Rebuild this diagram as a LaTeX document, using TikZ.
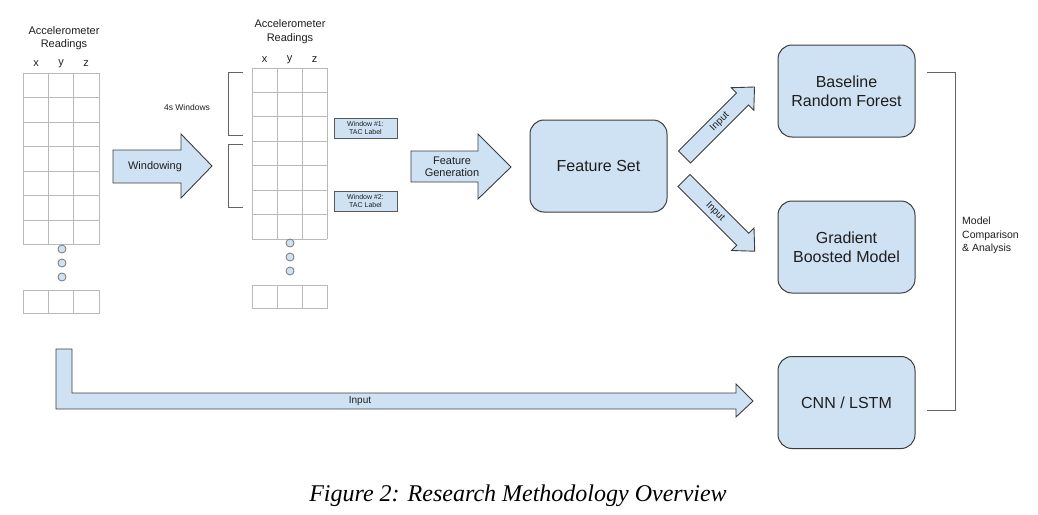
\documentclass[tikz,border=0pt]{standalone}
\usepackage{fontspec}
\setmainfont{Liberation Sans}
\newfontfamily\capfont{Liberation Serif}
\definecolor{lblue}{RGB}{207,226,243}
\definecolor{edge}{RGB}{60,60,60}
\definecolor{gridc}{RGB}{185,185,185}
\definecolor{txt}{RGB}{30,30,30}
\tikzset{
  blockarrow/.style={fill=lblue, draw=edge, line width=0.9pt, line join=miter},
  gridline/.style={draw=gridc, line width=1pt},
  bracketline/.style={draw=edge!80, line width=0.9pt},
  modelbox/.style={draw=edge, line width=1pt, fill=lblue, rounded corners=14pt, minimum width=137pt, minimum height=92pt, align=center, text=txt, font=\fontsize{16}{19}\selectfont, inner sep=0pt},
  labelbox/.style={draw=edge!85, line width=0.8pt, fill=lblue, minimum width=63pt, minimum height=20pt, align=center, text=txt, font=\fontsize{7}{8}\selectfont, inner sep=0pt},
  dot/.style={circle, draw=edge!70, fill=lblue, line width=0.8pt, minimum size=8pt, inner sep=0pt},
  lbl/.style={text=txt, align=center, inner sep=0pt},
}
\begin{document}
\begin{tikzpicture}[x=1pt,y=-1pt]
\useasboundingbox (0,0) rectangle (1038,514);

% ---------- left grid ----------
\node[lbl, font=\fontsize{11}{13}\selectfont] (t1) at (64,38.5) {Accelerometer\\Readings};
\node[lbl, font=\fontsize{11}{13}\selectfont] (x1) at (36,64) {x};
\node[lbl, font=\fontsize{11}{13}\selectfont] (y1) at (61,64) {y};
\node[lbl, font=\fontsize{11}{13}\selectfont] (z1) at (86,64) {z};
\foreach \i in {0,...,7} \draw[gridline] (23,{73+\i*24.57}) -- (99,{73+\i*24.57});
\foreach \x in {23,48.5,73.5,99} \draw[gridline] (\x,73) -- (\x,245);
\draw[gridline] (23,290) rectangle (99,313);
\draw[gridline] (48.5,290) -- (48.5,313);
\draw[gridline] (73.5,290) -- (73.5,313);
\node[dot] (d1a) at (62,249) {};
\node[dot] (d1b) at (62,263) {};
\node[dot] (d1c) at (62,277) {};

% ---------- windowing arrow ----------
\draw[blockarrow] (113,150) -- (181,150) -- (181,134) -- (212,166) -- (181,198) -- (181,183) -- (113,183) -- cycle;
\node[lbl, font=\fontsize{11}{13}\selectfont] (win) at (155,167) {Windowing};

% ---------- right grid ----------
\node[lbl, font=\fontsize{11}{14}\selectfont] (t2) at (290,32) {Accelerometer\\Readings};
\node[lbl, font=\fontsize{11}{13}\selectfont] (x2) at (264.5,60) {x};
\node[lbl, font=\fontsize{11}{13}\selectfont] (y2) at (289.5,60) {y};
\node[lbl, font=\fontsize{11}{13}\selectfont] (z2) at (314.5,60) {z};
\foreach \i in {0,...,7} \draw[gridline] (252,{68+\i*24.43}) -- (327,{68+\i*24.43});
\foreach \x in {252,277,302,327} \draw[gridline] (\x,68) -- (\x,239);
\draw[gridline] (252,285) rectangle (327,308);
\draw[gridline] (277,285) -- (277,308);
\draw[gridline] (302,285) -- (302,308);
\node[dot] (d2a) at (290,243) {};
\node[dot] (d2b) at (290,257) {};
\node[dot] (d2c) at (290,271) {};

% brackets
\draw[bracketline] (243,72) -- (228,72) -- (228,135) -- (243,135);
\draw[bracketline] (243,144) -- (228,144) -- (228,207) -- (243,207);
\node[lbl, font=\fontsize{8.5}{10}\selectfont] (fs4) at (187,107) {4s Windows};

% window labels
\node[labelbox] (w1) at (365.5,128) {Window \#1:\\TAC Label};
\node[labelbox] (w2) at (365.5,201) {Window \#2:\\TAC Label};

% ---------- feature generation arrow ----------
\draw[blockarrow] (411,151) -- (478,151) -- (478,134) -- (511,167) -- (478,199) -- (478,182) -- (411,182) -- cycle;
\node[lbl, font=\fontsize{11}{12.5}\selectfont] (fg) at (452,167) {Feature\\Generation};

% ---------- feature set ----------
\node[modelbox] (fset) at (598.5,166) {Feature Set};

% ---------- models ----------
\node[modelbox] (rf) at (846.5,91) {Baseline\\Random Forest};
\node[modelbox] (gb) at (846.5,247) {Gradient\\Boosted Model};
\node[modelbox] (cnn) at (846.5,402.5) {CNN / LSTM};

% diagonal input arrows
\coordinate (upS) at (684.5,157);
\coordinate (dnS) at (684,180.5);
\begin{scope}[shift={(upS)}, rotate=45]
  \draw[blockarrow] (0,-8.5) -- (82,-8.5) -- (82,-16) -- (99,0) -- (82,16) -- (82,8.5) -- (0,8.5) -- cycle;
  \node[lbl, font=\fontsize{10}{12}\selectfont, rotate=45] (in1) at (50,0) {Input};
\end{scope}
\begin{scope}[shift={(dnS)}, rotate=-45]
  \draw[blockarrow] (0,-8.5) -- (83,-8.5) -- (83,-16) -- (100,0) -- (83,16) -- (83,8.5) -- (0,8.5) -- cycle;
  \node[lbl, font=\fontsize{10}{12}\selectfont, rotate=-45] (in2) at (44,0) {Input};
\end{scope}

% long input arrow
\draw[blockarrow] (56,349) -- (72,349) -- (72,393) -- (736,393) -- (736,384) -- (753,401) -- (736,417) -- (736,409) -- (56,409) -- cycle;
\node[lbl, font=\fontsize{10}{12}\selectfont] (in3) at (360,401) {Input};

% comparison bracket
\draw[bracketline] (927,72) -- (955,72) -- (955,410) -- (927,410);
\node[text=txt, align=left, inner sep=0pt, anchor=west, font=\fontsize{10.5}{13.5}\selectfont] (mca) at (962,235.5) {Model\\Comparison\\\& Analysis};

% caption
\node[text=black, inner sep=0pt, font=\capfont\itshape\fontsize{24}{27}\selectfont] (cap) at (518,496) {Figure 2: Research Methodology Overview};
\end{tikzpicture}
\end{document}
